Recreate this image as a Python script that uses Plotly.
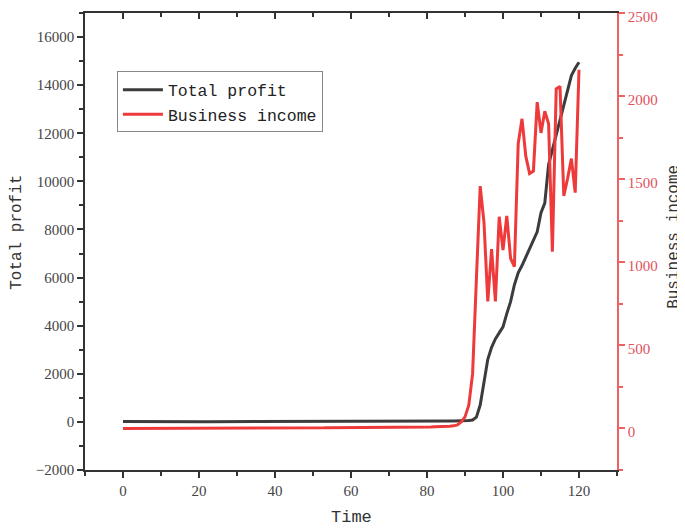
import plotly.graph_objects as go

time = list(range(121))

total_profit = [
    20, 18, 15, 15, 14, 14, 12, 12, 12, 11,
    10, 10, 10, 9, 9, 8, 8, 8, 8, 7,
    7, 7, 6, 6, 6, 5, 5, 5, 5, 5,
    5, 5, 4, 4, 4, 4, 4, 4, 4, 4,
    3, 3, 3, 3, 3, 3, 3, 3, 3, 3,
    4, 4, 4, 5, 5, 5, 6, 6, 6, 7,
    7, 8, 8, 9, 9, 10, 10, 11, 12, 13,
    14, 15, 16, 17, 18, 19, 20, 21, 22, 23,
    24, 25, 26, 28, 30, 32, 34, 36, 38, 40,
    45, 55, 80, 200, 700, 1700, 2600, 3100, 3450, 3700,
    3950, 4500, 5000, 5700, 6200, 6500, 6850, 7250, 7600, 7900,
    8700, 9100, 10700, 11300, 11900, 12500, 13100, 13800, 14400, 14700,
    14950,
]

business_income = [
    0, 0, 0, 1, 1, 1, 2, 2, 1, 1,
    1, 1, 2, 2, 2, 3, 3, 3, 2, 2,
    2, 2, 2, 3, 3, 3, 3, 3, 3, 3,
    3, 3, 3, 3, 3, 3, 3, 3, 3, 3,
    3, 3, 3, 3, 3, 3, 3, 3, 3, 4,
    4, 4, 4, 4, 5, 5, 5, 5, 5, 5,
    5, 5, 6, 6, 6, 6, 6, 6, 7, 7,
    7, 7, 7, 7, 8, 8, 8, 8, 8, 9,
    9, 9, 10, 10, 11, 12, 14, 16, 22, 40,
    70, 140, 330, 900, 1460, 1240, 765, 1080, 765, 1275,
    1075, 1280, 1025, 975, 1715, 1865, 1640, 1535, 1550, 1965,
    1780, 1910, 1835, 1065, 2045, 2060, 1400, 1505, 1625, 1420,
    2160,
]

x_ticks = [0, 20, 40, 60, 80, 100, 120]
income_ticks = [0, 500, 1000, 1500, 2000, 2500]

BLACK = "#3c3c3c"
RED = "#ee3a3a"
AXRED = "#f06262"
TICKRED = "#e2505e"
serif = "Liberation Serif"
mono = "Liberation Mono"

fig = go.Figure()
fig.add_trace(go.Scatter(
    x=time, y=total_profit, name="Total profit", mode="lines",
    line=dict(color=BLACK, width=3), xaxis="x", yaxis="y"))
fig.add_trace(go.Scatter(
    x=time, y=business_income, name="Business income", mode="lines",
    line=dict(color=RED, width=3), xaxis="x", yaxis="y2"))
# invisible trace for top mirrored axis
fig.add_trace(go.Scatter(
    x=[time[0]], y=[total_profit[0]], mode="markers", showlegend=False,
    marker=dict(opacity=0), hoverinfo="skip", xaxis="x2", yaxis="y"))

title_font = dict(family=mono, size=16, color="#333333")

fig.update_layout(
    width=677, height=524,
    margin=dict(l=77, r=68, t=5, b=62, autoexpand=False),
    plot_bgcolor="white", paper_bgcolor="white",
    showlegend=True,
    legend=dict(
        x=0.06, y=0.872, xanchor="left", yanchor="top",
        bgcolor="white", bordercolor="#888888", borderwidth=1,
        font=dict(family=mono, size=16.5, color="#222222"),
        tracegroupgap=0, itemwidth=40,
    ),
    xaxis=dict(
        range=[-10, 130], tickvals=x_ticks, ticks="outside", ticklen=6, tickwidth=1.5,
        tickcolor="#333333", showline=True, linecolor="#333333", linewidth=1.5,
        showgrid=False, zeroline=False, automargin=False,
        minor=dict(dtick=10, tick0=0, ticks="outside", ticklen=4, tickcolor="#333333", showgrid=False),
        tickfont=dict(family=serif, size=15, color="#444444"),
    ),
    xaxis2=dict(
        overlaying="x", side="top", range=[-10, 130], tickvals=x_ticks,
        ticks="inside", ticklen=6, tickwidth=1.5, tickcolor="#333333",
        showticklabels=False, showline=True, linecolor="#333333", linewidth=1.5,
        showgrid=False, zeroline=False, automargin=False,
        minor=dict(dtick=10, tick0=0, ticks="inside", ticklen=4, tickcolor="#333333", showgrid=False),
    ),
    yaxis=dict(
        range=[-2000, 17000], dtick=2000, tick0=0, tickformat="d",
        ticks="outside", ticklen=6, tickwidth=1.5,
        tickcolor="#333333", showline=True, linecolor="#333333", linewidth=1.5,
        showgrid=False, zeroline=False, automargin=False,
        minor=dict(dtick=1000, tick0=0, ticks="outside", ticklen=4, tickcolor="#333333", showgrid=False),
        tickfont=dict(family=serif, size=15, color="#444444"),
    ),
    yaxis2=dict(
        overlaying="y", side="right", anchor="x",
        range=[-250, 2502], tickvals=income_ticks, tickformat="d",
        ticks="outside", ticklen=6, tickwidth=1.5, ticklabeloverflow="allow",
        ticklabelshift=3,
        tickcolor=AXRED, showline=True, linecolor=AXRED, linewidth=1.5,
        showgrid=False, zeroline=False, automargin=False,
        minor=dict(dtick=250, tick0=0, ticks="outside", ticklen=4, tickcolor=AXRED, showgrid=False),
        tickfont=dict(family=serif, size=15, color=TICKRED),
    ),
    annotations=[
        dict(text="Time", xref="paper", yref="paper", x=0.5, y=-0.105,
             xanchor="center", yanchor="middle", showarrow=False,
             font=dict(family=mono, size=17, color="#333333")),
        dict(text="Total profit", xref="paper", yref="paper", x=-0.127, y=0.52,
             xanchor="center", yanchor="middle", showarrow=False, textangle=-90, font=title_font),
        dict(text="Business income", xref="paper", yref="paper", x=1.107, y=0.51,
             xanchor="center", yanchor="middle", showarrow=False, textangle=-90, font=title_font),
    ],
)

fig.write_html("out.html")
